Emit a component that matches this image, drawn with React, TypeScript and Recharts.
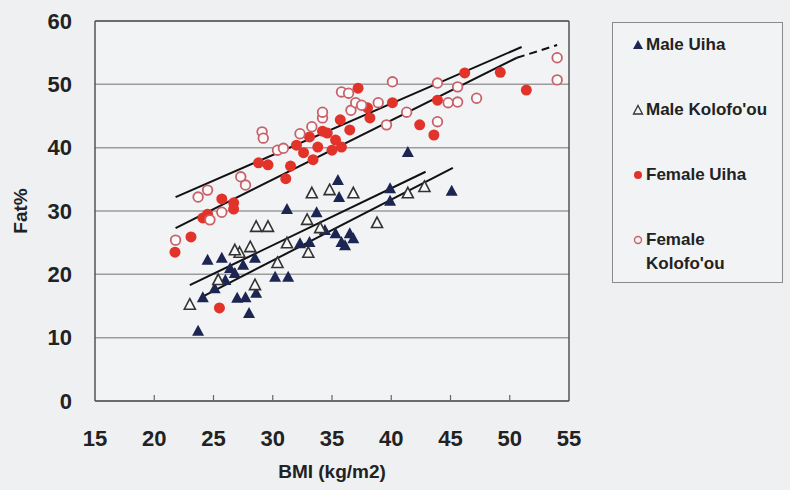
import React from 'react'
import {
  ScatterChart,
  Scatter,
  XAxis,
  YAxis,
  CartesianGrid,
  ReferenceLine,
} from 'recharts'

// BMI vs body fat
const maleUiha = [
  { x: 23.7, y: 11.1 }, { x: 24.5, y: 22.3 }, { x: 25.7, y: 22.6 }, { x: 28.0, y: 13.9 },
  { x: 31.2, y: 30.3 }, { x: 35.5, y: 34.9 }, { x: 35.6, y: 32.2 }, { x: 33.7, y: 29.8 },
  { x: 41.4, y: 39.3 }, { x: 39.9, y: 33.6 }, { x: 39.9, y: 31.6 }, { x: 45.1, y: 33.2 },
  { x: 27.0, y: 16.3 }, { x: 27.7, y: 16.4 }, { x: 28.6, y: 17.1 }, { x: 24.1, y: 16.4 },
  { x: 25.1, y: 17.8 }, { x: 26.0, y: 19.1 }, { x: 26.8, y: 20.2 }, { x: 27.5, y: 21.5 },
  { x: 26.4, y: 21.0 }, { x: 30.2, y: 19.6 }, { x: 31.3, y: 19.6 }, { x: 32.3, y: 24.9 },
  { x: 33.1, y: 25.1 }, { x: 34.4, y: 27.0 }, { x: 35.3, y: 26.5 }, { x: 35.8, y: 25.1 },
  { x: 36.5, y: 26.5 }, { x: 36.1, y: 24.6 }, { x: 36.8, y: 25.7 }, { x: 28.5, y: 22.6 },
]

const maleKolofoou = [
  { x: 23.0, y: 15.2 }, { x: 28.6, y: 27.5 }, { x: 29.6, y: 27.5 }, { x: 33.3, y: 32.8 },
  { x: 34.8, y: 33.3 }, { x: 36.8, y: 32.8 }, { x: 32.9, y: 28.6 }, { x: 33.0, y: 23.4 },
  { x: 28.5, y: 18.3 }, { x: 25.4, y: 19.1 }, { x: 27.2, y: 23.4 }, { x: 28.1, y: 24.3 },
  { x: 30.4, y: 21.8 }, { x: 34.0, y: 27.3 }, { x: 38.8, y: 28.1 }, { x: 41.4, y: 32.8 },
  { x: 42.8, y: 33.8 }, { x: 31.2, y: 24.9 }, { x: 26.8, y: 23.8 },
]

const femaleUiha = [
  { x: 21.75, y: 23.5 }, { x: 23.1, y: 25.9 }, { x: 25.5, y: 14.7 }, { x: 24.1, y: 28.9 },
  { x: 24.5, y: 29.5 }, { x: 25.7, y: 31.9 }, { x: 26.7, y: 31.3 }, { x: 26.7, y: 30.3 },
  { x: 28.8, y: 37.6 }, { x: 29.6, y: 37.3 }, { x: 31.1, y: 35.1 }, { x: 31.5, y: 37.1 },
  { x: 32.6, y: 39.2 }, { x: 33.4, y: 38.1 }, { x: 34.2, y: 42.6 }, { x: 34.6, y: 42.3 },
  { x: 35.0, y: 39.6 }, { x: 35.3, y: 41.2 }, { x: 35.7, y: 44.4 }, { x: 35.8, y: 40.1 },
  { x: 36.5, y: 42.8 }, { x: 37.2, y: 49.4 }, { x: 38.0, y: 46.3 }, { x: 38.2, y: 44.7 },
  { x: 40.1, y: 47.1 }, { x: 42.4, y: 43.6 }, { x: 43.6, y: 42.0 }, { x: 43.9, y: 47.5 },
  { x: 46.2, y: 51.8 }, { x: 49.2, y: 51.9 }, { x: 51.4, y: 49.1 }, { x: 32.0, y: 40.4 },
  { x: 33.1, y: 41.7 }, { x: 33.8, y: 40.1 },
]

const femaleKolofoou = [
  { x: 21.8, y: 25.4 }, { x: 23.7, y: 32.2 }, { x: 24.5, y: 33.3 }, { x: 24.7, y: 28.6 },
  { x: 25.7, y: 29.8 }, { x: 27.3, y: 35.4 }, { x: 27.7, y: 34.1 }, { x: 29.1, y: 42.5 },
  { x: 29.2, y: 41.5 }, { x: 30.4, y: 39.6 }, { x: 30.9, y: 39.9 }, { x: 32.3, y: 42.2 },
  { x: 33.3, y: 43.3 }, { x: 34.2, y: 44.7 }, { x: 34.2, y: 45.6 }, { x: 35.8, y: 48.8 },
  { x: 36.4, y: 48.6 }, { x: 36.6, y: 45.9 }, { x: 37.0, y: 47.1 }, { x: 37.5, y: 46.7 },
  { x: 38.9, y: 47.1 }, { x: 39.6, y: 43.6 }, { x: 40.1, y: 50.4 }, { x: 41.3, y: 45.6 },
  { x: 43.9, y: 50.2 }, { x: 44.8, y: 47.1 }, { x: 45.6, y: 49.6 }, { x: 45.6, y: 47.2 },
  { x: 47.2, y: 47.8 }, { x: 43.9, y: 44.1 }, { x: 54.0, y: 54.2 }, { x: 54.0, y: 50.7 },
]

// fitted lines (end points)
const femaleFitUpper = [{ x: 21.8, y: 32.2 }, { x: 51.0, y: 55.9 }]
const femaleFitLower = [{ x: 21.8, y: 27.3 }, { x: 50.6, y: 54.2 }]
const femaleFitDash = [{ x: 50.6, y: 54.2 }, { x: 54.0, y: 56.2 }]
const maleFitUpper = [{ x: 23.0, y: 18.3 }, { x: 42.9, y: 36.2 }]
const maleFitLower = [{ x: 24.0, y: 16.4 }, { x: 45.2, y: 36.8 }]

const xTicks = [15, 20, 25, 30, 35, 40, 45, 50, 55]
const yTicks = [0, 10, 20, 30, 40, 50, 60]

const FONT = '"Liberation Sans", Arial, sans-serif'
const TEXT = '#222'
const RED = '#e2332b'
const PINK = '#c9606a'
const NAVY = '#1d2552'

const FilledTriangle = (props: any) => {
  const { cx, cy } = props
  return <path d={`M${cx},${cy - 6}L${cx + 6},${cy + 5}L${cx - 6},${cy + 5}Z`} fill={NAVY} />
}

const OpenTriangle = (props: any) => {
  const { cx, cy } = props
  return (
    <path
      d={`M${cx},${cy - 6}L${cx + 5.5},${cy + 4.5}L${cx - 5.5},${cy + 4.5}Z`}
      fill="#f7f7f7"
      stroke="#333"
      strokeWidth={1.6}
    />
  )
}

const FilledCircle = (props: any) => {
  const { cx, cy } = props
  return <circle cx={cx} cy={cy} r={5.5} fill={RED} />
}

const OpenCircle = (props: any) => {
  const { cx, cy } = props
  return <circle cx={cx} cy={cy} r={4.8} fill="#fafafa" stroke={PINK} strokeWidth={1.8} />
}

const XTick = (props: any) => {
  const { x, y, payload } = props
  const inner = payload.value > 15 && payload.value < 55
  return (
    <g>
      {inner && <line x1={x} x2={x} y1={y} y2={y - 6} stroke="#666" strokeWidth={1.2} />}
      <text
        x={x}
        y={y + 45}
        textAnchor="middle"
        fill={TEXT}
        fontSize={22}
        fontWeight="bold"
        fontFamily={FONT}
      >
        {payload.value}
      </text>
    </g>
  )
}

const legendItems = [
  { label: ['Male Uiha'], mark: 'ft' },
  { label: ["Male Kolofo'ou"], mark: 'ot' },
  { label: ['Female Uiha'], mark: 'fc' },
  { label: ['Female', "Kolofo'ou"], mark: 'oc' },
]

const LegendMark = ({ mark }: { mark: string }) => (
  <svg width={12} height={12} style={{ position: 'absolute', left: -14, top: 6 }}>
    {mark === 'ft' && <path d="M6,1L11,10L1,10Z" fill={NAVY} />}
    {mark === 'ot' && <path d="M6,1.5L10.5,10L1.5,10Z" fill="none" stroke="#333" strokeWidth={1.3} />}
    {mark === 'fc' && <circle cx={6} cy={6} r={4} fill={RED} />}
    {mark === 'oc' && <circle cx={6} cy={6} r={3.5} fill="none" stroke={PINK} strokeWidth={1.4} />}
  </svg>
)

export default function App() {
  return (
    <div
      style={{
        position: 'absolute',
        left: 0,
        top: 0,
        width: 790,
        height: 490,
        background: '#eef0f2',
      }}
    >
      <ScatterChart
        width={790}
        height={490}
        margin={{ top: 21, right: 221, left: 0, bottom: 0 }}
      >
        <CartesianGrid
          vertical={false}
          stroke="#9c9c9c"
          strokeWidth={1.5}
          fill="#f1f3f5"
        />
        <XAxis
          type="number"
          dataKey="x"
          domain={[15, 55]}
          ticks={xTicks}
          interval={0}
          height={89}
          tickSize={0}
          tickMargin={0}
          tickLine={false}
          tick={<XTick />}
          stroke="#555"
          strokeWidth={1.5}
          label={{
            value: 'BMI (kg/m2)',
            position: 'insideBottom',
            offset: 12,
            fill: TEXT,
            fontSize: 19,
            fontWeight: 'bold',
            fontFamily: FONT,
          }}
        />
        <YAxis
          type="number"
          dataKey="y"
          domain={[0, 60]}
          ticks={yTicks}
          interval={0}
          width={95}
          tickSize={0}
          tickMargin={23}
          tickLine={false}
          stroke="#555"
          strokeWidth={1.5}
          tick={{ fill: TEXT, fontSize: 22, fontWeight: 'bold', fontFamily: FONT }}
          label={{
            value: 'Fat%',
            angle: -90,
            position: 'insideLeft',
            offset: 20,
            fill: TEXT,
            fontSize: 19,
            fontWeight: 'bold',
            fontFamily: FONT,
            style: { textAnchor: 'middle' },
          }}
        />
        <ReferenceLine x={55} stroke="#555" strokeWidth={1.5} />
        <ReferenceLine y={60} stroke="#555" strokeWidth={1.5} />
        <Scatter name="Male Uiha" data={maleUiha} shape={FilledTriangle} isAnimationActive={false} />
        <Scatter name="Male Kolofo'ou" data={maleKolofoou} shape={OpenTriangle} isAnimationActive={false} />
        <Scatter name="Female Uiha" data={femaleUiha} shape={FilledCircle} isAnimationActive={false} />
        <Scatter name="Female Kolofo'ou" data={femaleKolofoou} shape={OpenCircle} isAnimationActive={false} />
        <ReferenceLine segment={femaleFitUpper} stroke="#111" strokeWidth={2} />
        <ReferenceLine segment={femaleFitLower} stroke="#111" strokeWidth={2} />
        <ReferenceLine segment={femaleFitDash} stroke="#111" strokeWidth={2} strokeDasharray="8 5" />
        <ReferenceLine segment={maleFitUpper} stroke="#111" strokeWidth={2} />
        <ReferenceLine segment={maleFitLower} stroke="#111" strokeWidth={2} />
      </ScatterChart>
      <div
        style={{
          position: 'absolute',
          left: 612,
          top: 22,
          width: 171,
          height: 261,
          boxSizing: 'border-box',
          border: '1.5px solid #8a8a8a',
          background: '#f1f3f5',
          fontFamily: FONT,
          fontWeight: 'bold',
          fontSize: 17,
          color: TEXT,
        }}
      >
        {legendItems.map((item, i) => (
          <div
            key={i}
            style={{ position: 'absolute', left: 33, top: 10 + i * 65, lineHeight: '24px' }}
          >
            <LegendMark mark={item.mark} />
            {item.label.map((l, j) => (
              <div key={j}>{l}</div>
            ))}
          </div>
        ))}
      </div>
    </div>
  )
}
